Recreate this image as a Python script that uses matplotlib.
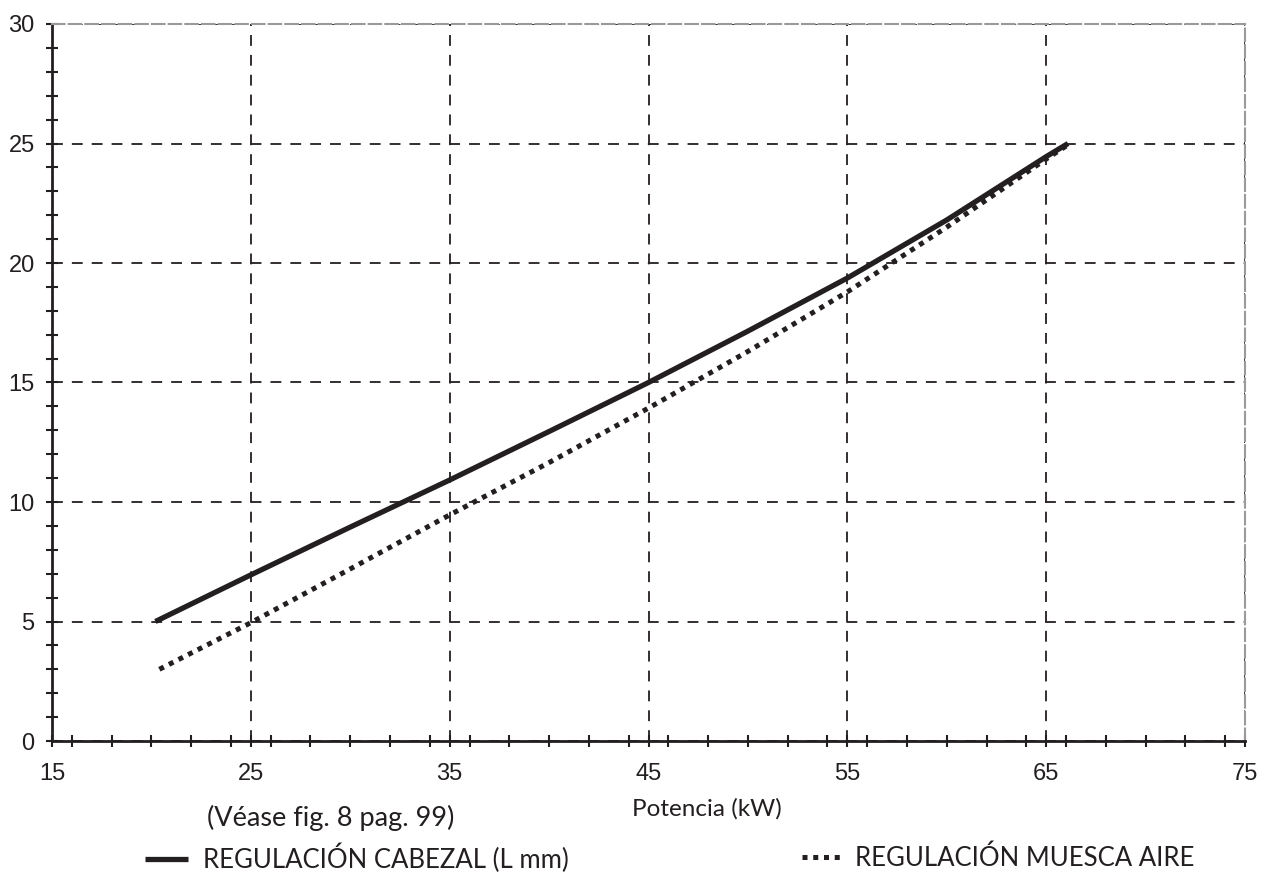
import numpy as np
import matplotlib
matplotlib.use('Agg')
import matplotlib.pyplot as plt
from matplotlib.lines import Line2D
from matplotlib.ticker import MultipleLocator

# Potencia (kW) vs regulacion
cabezal_x = [20.2, 25, 30, 35, 40, 45, 50, 55, 60, 65, 66.1]
cabezal_y = [5.0, 6.95, 8.95, 10.92, 12.95, 15.0, 17.15, 19.37, 21.8, 24.45, 25.0]

muesca_x = [20.4, 25, 30, 35, 40, 45, 50, 55, 60, 65, 66.2]
muesca_y = [3.0, 4.95, 7.2, 9.46, 11.65, 13.93, 16.3, 18.79, 21.5, 24.35, 25.0]

x_ticks = [15, 25, 35, 45, 55, 65, 75]
y_ticks = [0, 5, 10, 15, 20, 25, 30]

label_font = 'Lato'
tick_font = 'Liberation Sans'
ink = '#231f20'

fig = plt.figure(figsize=(12.69, 8.72), dpi=100)
ax = fig.add_axes([52/1269, 131/872, (1245-52)/1269, (741-24)/872])

ax.plot(cabezal_x, cabezal_y, color=ink, lw=3.8, solid_capstyle='butt')
ax.plot(muesca_x, muesca_y, color=ink, lw=3.6, linestyle=(0, (1, 1.15)),
        dash_capstyle='butt')

ax.set_xlim(15, 75)
ax.set_ylim(0, 30)
ax.set_xticks(x_ticks)
ax.set_yticks(y_ticks)
ax.xaxis.set_minor_locator(MultipleLocator(2))
ax.yaxis.set_minor_locator(MultipleLocator(1))

ax.grid(True, which='major', color=ink, linestyle=(0, (6, 5)), lw=1.3)
ax.tick_params(which='both', direction='inout', color=ink, width=1.5,
               labelsize=17, labelcolor=ink)
ax.tick_params(which='major', length=9, pad=8)
ax.tick_params(which='minor', length=9)
ax.tick_params(axis='x', pad=11)
for lab in ax.get_xticklabels() + ax.get_yticklabels():
    lab.set_fontfamily(tick_font)

for s in ['left', 'bottom']:
    ax.spines[s].set_color(ink)
    ax.spines[s].set_linewidth(2)
for s in ['top', 'right']:
    ax.spines[s].set_color('#9a9a9a')
    ax.spines[s].set_linewidth(1.5)
    ax.spines[s].set_linestyle((0, (6, 2)))

ax.set_xlabel('Potencia (kW)', fontsize=17.5, family=label_font, color=ink)
ax.xaxis.set_label_coords((707 - 52) / (1245 - 52), -0.079)

fig.text(207/1269, 1 - 818/872, '(Véase fig. 8 pag. 99)', fontsize=19.5,
         family=label_font, color=ink, va='center', ha='left')

h1 = Line2D([], [], color=ink, lw=3.8, solid_capstyle='butt')
h2 = Line2D([], [], color=ink, lw=3.6, linestyle=(0, (1, 1.15)), dash_capstyle='butt')
leg_kw = dict(frameon=False, handlelength=1.67, borderpad=0, borderaxespad=0,
              prop={'family': label_font, 'size': 18.5}, labelcolor=ink)
leg1 = fig.legend([h1], ['REGULACIÓN CABEZAL (L mm)'], loc='center left',
                  bbox_to_anchor=(145/1269, 1 - 858/872), handletextpad=0.58, **leg_kw)
leg2 = fig.legend([h2], ['REGULACIÓN MUESCA AIRE'], loc='center left',
                  bbox_to_anchor=(802/1269, 1 - 858/872), handletextpad=0.4, **leg_kw)

fig.savefig('out.png', dpi=100)
